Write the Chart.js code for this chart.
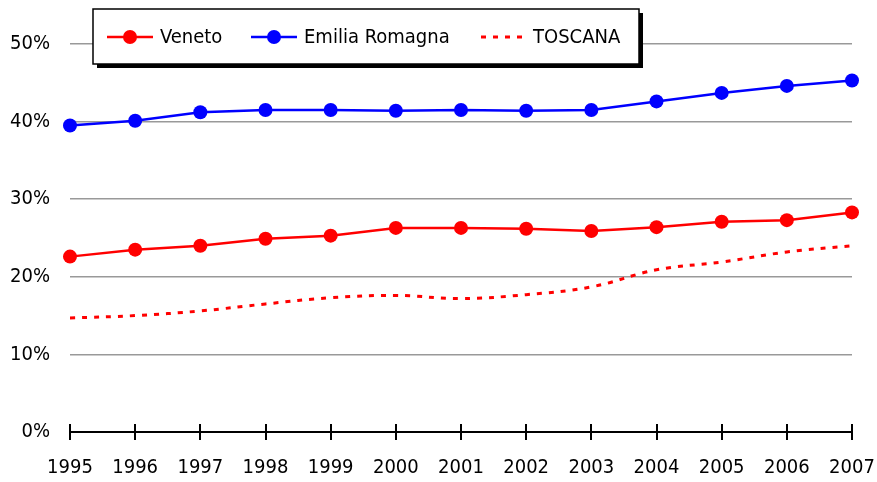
<!DOCTYPE html>
<html lang="it">
<head>
<meta charset="UTF-8">
<title>Veneto, Emilia Romagna, Toscana</title>
<script src="https://cdn.jsdelivr.net/npm/chart.js"></script>
<style>
    html, body { margin: 0; padding: 0; background: #fff; }
    #wrap { width: 877px; height: 482px; }
</style>
</head>
<body>
<div id="wrap"><canvas id="chartCanvas"></canvas></div>
<script>
    // dati
    const years = ['1995', '1996', '1997', '1998', '1999', '2000', '2001', '2002', '2003', '2004', '2005', '2006', '2007'];
    const veneto = [22.6, 23.5, 24.0, 24.9, 25.3, 26.3, 26.3, 26.2, 25.9, 26.4, 27.1, 27.3, 28.3];
    const emilia = [39.5, 40.1, 41.2, 41.5, 41.5, 41.4, 41.5, 41.4, 41.5, 42.6, 43.7, 44.6, 45.3];
    const toscana = [14.7, 15.0, 15.6, 16.5, 17.3, 17.6, 17.2, 17.7, 18.7, 20.9, 21.9, 23.2, 24.0];
    const yTicks = [0, 10, 20, 30, 40, 50];

    const FONT = '"Liberation Sans Narrow", "DejaVu Sans Condensed", Arial, sans-serif';
    const FSIZE = 20;

    // trattini sopra l'asse x + legenda con cornice
    const extras = {
        id: 'extras',
        afterDraw(chart) {
            const ctx = chart.ctx;
            const x = chart.scales.x;
            const bottom = chart.chartArea.bottom;
            ctx.save();
            ctx.strokeStyle = '#000';
            ctx.lineWidth = 2;
            x.ticks.forEach((t, i) => {
                const px = Math.round(x.getPixelForTick(i));
                ctx.beginPath();
                ctx.moveTo(px, bottom - 8);
                ctx.lineTo(px, bottom);
                ctx.stroke();
            });

            // legenda
            const L = 93, T = 9, W = 546, H = 55;
            ctx.fillStyle = '#000';
            ctx.fillRect(L + 4, T + 4, W, H);
            ctx.fillStyle = '#fff';
            ctx.fillRect(L, T, W, H);
            ctx.lineWidth = 1.5;
            ctx.strokeRect(L, T, W, H);

            const cy = 37;
            const items = [
                { ds: chart.data.datasets[0], x0: 107, x1: 153, tx: 160 },
                { ds: chart.data.datasets[1], x0: 251, x1: 297, tx: 304 },
                { ds: chart.data.datasets[2], x0: 481, x1: 522, tx: 533 }
            ];
            items.forEach(it => {
                ctx.strokeStyle = it.ds.borderColor;
                ctx.lineWidth = it.ds.borderWidth;
                ctx.setLineDash(it.ds.borderDash || []);
                ctx.beginPath();
                ctx.moveTo(it.x0, cy);
                ctx.lineTo(it.x1, cy);
                ctx.stroke();
                ctx.setLineDash([]);
                if (it.ds.pointRadius > 0) {
                    ctx.fillStyle = it.ds.pointBackgroundColor;
                    ctx.beginPath();
                    ctx.arc((it.x0 + it.x1) / 2, cy, it.ds.pointRadius, 0, Math.PI * 2);
                    ctx.fill();
                }
                ctx.fillStyle = '#000';
                ctx.font = FSIZE + 'px ' + FONT;
                ctx.textBaseline = 'middle';
                ctx.textAlign = 'left';
                ctx.fillText(it.ds.label, it.tx, cy + 1);
            });
            ctx.restore();
        }
    };

    new Chart(document.getElementById('chartCanvas'), {
        type: 'line',
        data: {
            labels: years,
            datasets: [
                {
                    label: 'Veneto',
                    data: veneto,
                    borderColor: '#ff0000',
                    backgroundColor: '#ff0000',
                    pointBackgroundColor: '#ff0000',
                    pointBorderWidth: 0,
                    pointRadius: 7,
                    borderWidth: 2.5,
                    tension: 0
                },
                {
                    label: 'Emilia Romagna',
                    data: emilia,
                    borderColor: '#0000ff',
                    backgroundColor: '#0000ff',
                    pointBackgroundColor: '#0000ff',
                    pointBorderWidth: 0,
                    pointRadius: 7,
                    borderWidth: 2.5,
                    tension: 0
                },
                {
                    label: 'TOSCANA',
                    data: toscana,
                    borderColor: '#ff0000',
                    backgroundColor: '#ff0000',
                    borderDash: [5, 7],
                    pointRadius: 0,
                    borderWidth: 3,
                    tension: 0.4
                }
            ]
        },
        options: {
            responsive: true,
            maintainAspectRatio: false,
            animation: false,
            layout: { padding: { top: 44, right: 25, left: 0, bottom: 0 } },
            plugins: {
                legend: { display: false },
                tooltip: { enabled: false }
            },
            scales: {
                x: {
                    offset: false,
                    grid: {
                        drawOnChartArea: false,
                        drawTicks: true,
                        tickLength: 8,
                        color: '#000',
                        lineWidth: 2
                    },
                    border: { display: true, color: '#000', width: 2 },
                    ticks: {
                        color: '#000',
                        font: { family: FONT, size: FSIZE },
                        padding: 16,
                        maxRotation: 0,
                        autoSkip: false
                    },
                    afterFit: s => { s.height = 50; s.paddingLeft = 0; s.paddingRight = 0; }
                },
                y: {
                    min: 0,
                    max: 50,
                    afterBuildTicks: s => { s.ticks = yTicks.map(v => ({ value: v })); },
                    grid: {
                        color: '#999',
                        lineWidth: 1.5,
                        drawTicks: false
                    },
                    border: { display: false },
                    ticks: {
                        color: '#000',
                        font: { family: FONT, size: FSIZE },
                        padding: 20,
                        callback: v => v + '%'
                    },
                    afterFit: s => { s.width = 70; s.paddingTop = 0; s.paddingBottom = 0; }
                }
            }
        },
        plugins: [extras]
    });
</script>
</body>
</html>
